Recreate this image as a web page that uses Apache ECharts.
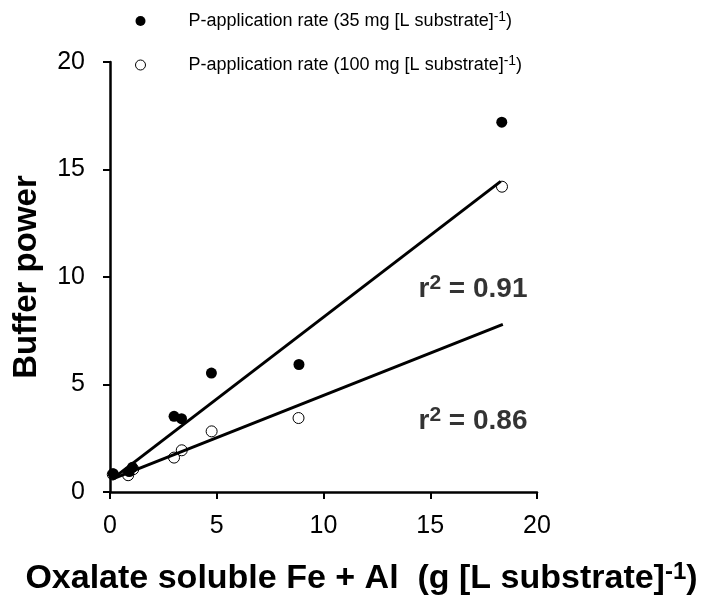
<!DOCTYPE html>
<html>
<head>
<meta charset="utf-8">
<script src="https://cdn.jsdelivr.net/npm/echarts@6/dist/echarts.min.js"></script>
<style>
  html, body { margin: 0; padding: 0; background: #fff; }
  #chart { width: 722px; height: 603px; }
</style>
</head>
<body>
<div id="chart"></div>
<script>
// Oxalate soluble Fe + Al (g per L substrate) and buffer power, 35 mg P rate
const feAl35 = [0.15, 0.9, 1.05, 3.0, 3.35, 4.75, 8.85, 18.35];
const buffer35 = [0.85, 0.95, 1.15, 3.52, 3.41, 5.53, 5.93, 17.2];
// Same substrates, 100 mg P rate
const feAl100 = [0.13, 0.85, 1.09, 3.0, 3.36, 4.76, 8.83, 18.36];
const buffer100 = [0.82, 0.78, 1.06, 1.6, 1.94, 2.82, 3.44, 14.2];
// Regression line end points
const fit35X = [0.1, 18.3];
const fit35Y = [0.6, 14.45];
const fit100X = [0.1, 18.4];
const fit100Y = [0.6, 7.8];
// Coefficients of determination
const r2Values = ['0.91', '0.86'];
// Axis tick labels
const xTicks = [0, 5, 10, 15, 20];
const yTicks = [0, 5, 10, 15, 20];

const seriesNames = [
  'P-application rate (35 mg [L substrate]-1)',
  'P-application rate (100 mg [L substrate]-1)'
];

const pairs = (xs, ys) => xs.map((x, i) => [x, ys[i]]);

const FONT = '"Liberation Sans", Arial, sans-serif';

const chart = echarts.init(document.getElementById('chart'), null, { renderer: 'canvas' });

const legendRich = {
  a: { fontSize: 18, fontFamily: FONT, color: '#000', lineHeight: 22 },
  s: { fontSize: 14, fontFamily: FONT, color: '#000', verticalAlign: 'top', lineHeight: 12, padding: [0, 0, 6, 0] }
};

const r2Rich = {
  a: { fontSize: 28, fontFamily: FONT, fontWeight: 'bold', color: '#000', lineHeight: 32 },
  s: { fontSize: 21, fontFamily: FONT, fontWeight: 'bold', color: '#000', verticalAlign: 'top', lineHeight: 16, padding: [0, 0, 10, 0] }
};

const option = {
  animation: false,
  backgroundColor: '#fff',
  grid: { left: 110, right: 185, top: 62, bottom: 111, containLabel: false },
  legend: {
    orient: 'vertical',
    left: 130,
    top: 5,
    itemWidth: 10,
    itemHeight: 10,
    itemGap: 24,
    selectedMode: false,
    formatter: function (name) {
      const base = name.replace('-1)', '');
      return '{a|' + base + '}{s|-1}{a|)}';
    },
    textStyle: { rich: legendRich, padding: [0, 0, 0, 38] },
    data: [
      { name: seriesNames[0], icon: 'circle', itemStyle: { color: '#000', borderWidth: 0 } },
      { name: seriesNames[1], icon: 'circle', itemStyle: { color: 'rgba(0,0,0,0)', borderColor: '#000', borderWidth: 1 } }
    ]
  },
  xAxis: {
    type: 'value',
    min: xTicks[0],
    max: xTicks[xTicks.length - 1],
    interval: xTicks[1] - xTicks[0],
    axisLine: { show: true, lineStyle: { color: '#000', width: 2.5 } },
    axisTick: { show: true, inside: false, length: 7, lineStyle: { color: '#000', width: 2 } },
    axisLabel: { fontSize: 25, fontFamily: FONT, color: '#000', margin: 22 },
    splitLine: { show: false },
    name: '{a|Oxalate soluble Fe + Al  (g [L substrate]}{s|-1}{a|)}',
    nameLocation: 'middle',
    nameGap: 68,
    nameTextStyle: {
      padding: [0, 0, 0, 76],
      rich: {
        a: { fontSize: 34, fontFamily: FONT, fontWeight: 'bold', color: '#000', lineHeight: 38 },
        s: { fontSize: 24, fontFamily: FONT, fontWeight: 'bold', color: '#000', verticalAlign: 'top', lineHeight: 18, padding: [0, 0, 12, 0] }
      }
    }
  },
  yAxis: {
    type: 'value',
    min: yTicks[0],
    max: yTicks[yTicks.length - 1],
    interval: yTicks[1] - yTicks[0],
    axisLine: { show: true, lineStyle: { color: '#000', width: 2.5 } },
    axisTick: { show: true, inside: false, length: 7, lineStyle: { color: '#000', width: 2 } },
    axisLabel: { fontSize: 25, fontFamily: FONT, color: '#000', margin: 25 },
    splitLine: { show: false },
    name: 'Buffer power',
    nameLocation: 'middle',
    nameGap: 67,
    nameTextStyle: { fontSize: 33, fontFamily: FONT, fontWeight: 'bold', color: '#000' }
  },
  series: [
    {
      name: seriesNames[0],
      type: 'scatter',
      symbol: 'circle',
      symbolSize: 11,
      z: 3,
      itemStyle: { color: '#000', borderWidth: 0, opacity: 1 },
      data: pairs(feAl35, buffer35)
    },
    {
      name: seriesNames[1],
      type: 'scatter',
      symbol: 'circle',
      symbolSize: 11,
      z: 3,
      itemStyle: { color: 'rgba(0,0,0,0)', borderColor: '#000', borderWidth: 1, opacity: 1 },
      data: pairs(feAl100, buffer100)
    },
    {
      name: 'fit35',
      type: 'line',
      symbol: 'none',
      z: 4,
      lineStyle: { color: '#000', width: 3 },
      data: pairs(fit35X, fit35Y)
    },
    {
      name: 'fit100',
      type: 'line',
      symbol: 'none',
      z: 4,
      lineStyle: { color: '#000', width: 3 },
      data: pairs(fit100X, fit100Y)
    },
    {
      name: 'r2',
      type: 'scatter',
      symbolSize: 0,
      z: 5,
      silent: true,
      label: {
        show: true,
        position: 'right',
        distance: 0,
        formatter: function (p) { return '{a|r}{s|2}{a| = ' + r2Values[p.dataIndex] + '}'; },
        rich: r2Rich
      },
      data: [[14.45, 9.45], [14.45, 3.3]]
    }
  ]
};

chart.setOption(option);
</script>
</body>
</html>
